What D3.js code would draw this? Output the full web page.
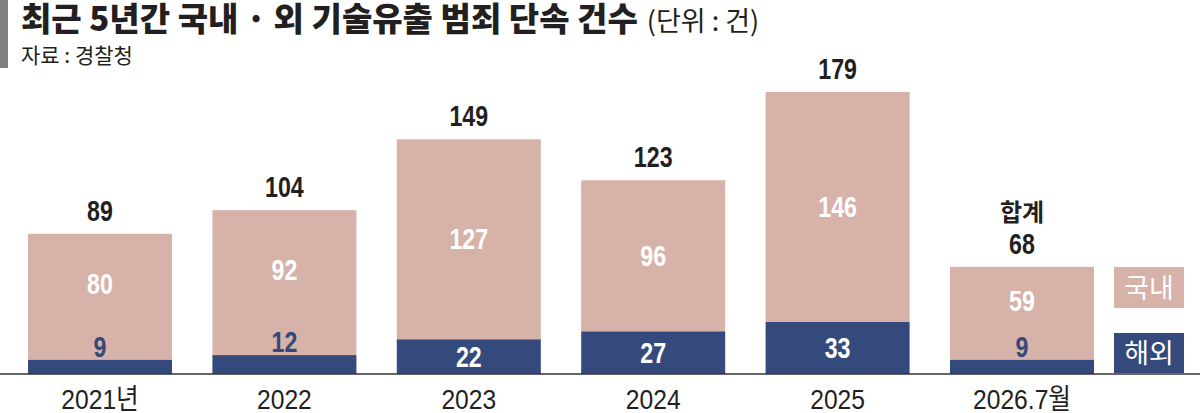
<!DOCTYPE html>
<html><head><meta charset="utf-8">
<script src="https://cdn.jsdelivr.net/npm/d3@7"></script>
<style>
html,body{margin:0;padding:0;background:#fff;}
svg{display:block;}
</style></head>
<body>
<svg id="c" width="1200" height="413"></svg>
<script>
const categories = ["2021년","2022","2023","2024","2025","2026.7월"];
const domestic = [80, 92, 127, 96, 146, 59];
const overseas = [9, 12, 22, 27, 33, 9];
const seriesNames = ["국내", "해외"];
const titleText = "최근 5년간 국내 · 외 기술유출 범죄 단속 건수";
const unitText = "(단위 : 건)";
const sourceText = "자료 : 경찰청";
const totalPrefix = ["", "", "", "", "", "합계"];

const PINK = "#d6b2a9", NAVY = "#34497c", INK = "#231f20";
const KR = "'Noto Sans CJK KR','Noto Sans',sans-serif";
const NUM = "'Liberation Sans',Arial,'Noto Sans CJK KR',sans-serif";
const NUMSIZE = 29, NUMSX = 0.8;

const svg = d3.select("#c");
const baseY = 374;
const x = d3.scaleBand().domain(categories).range([28, 1094]).paddingInner(0.219).paddingOuter(0);
const y = d3.scaleLinear().domain([0, 179]).range([baseY, 92]);

const data = categories.map((c, i) => ({c, d: domestic[i], o: overseas[i], t: domestic[i] + overseas[i], p: totalPrefix[i]}));
const cx = d => x(d.c) + x.bandwidth() / 2;

// header
svg.append("rect").attr("x", 0).attr("y", 0).attr("width", 8).attr("height", 68).attr("fill", "#808080");
const title = svg.append("text").attr("x", 21).attr("y", 31).attr("font-family", KR).attr("fill", INK)
  .attr("font-size", 33).attr("font-weight", 900).text(titleText);
const tw = title.node().getComputedTextLength();
svg.append("text").attr("x", 21 + tw + 9).attr("y", 31).attr("font-family", KR).attr("fill", INK)
  .attr("font-size", 27).attr("font-weight", 400).text(unitText);
svg.append("text").attr("x", 21).attr("y", 63).attr("font-family", KR).attr("font-size", 21).attr("fill", INK).text(sourceText);

// bars
const g = svg.append("g");
g.selectAll("rect.dom").data(data).join("rect").attr("class", "dom")
  .attr("x", d => x(d.c)).attr("width", x.bandwidth())
  .attr("y", d => y(d.t)).attr("height", d => y(d.o) - y(d.t)).attr("fill", PINK);
g.selectAll("rect.ovs").data(data).join("rect").attr("class", "ovs")
  .attr("x", d => x(d.c)).attr("width", x.bandwidth())
  .attr("y", d => y(d.o)).attr("height", d => baseY - y(d.o)).attr("fill", NAVY);

const small = d => (baseY - y(d.o)) < 28;
function numText(sel, yFn, fill) {
  sel.attr("transform", d => `translate(${cx(d)},${yFn(d)}) scale(${NUMSX},1)`)
    .attr("text-anchor", "middle").attr("font-family", NUM).attr("font-weight", 700)
    .attr("font-size", NUMSIZE).attr("fill", fill);
}
// overseas labels
numText(g.selectAll("text.ovl").data(data).join("text").attr("class", "ovl").text(d => d.o),
  d => small(d) ? y(d.o) - 3 : (y(d.o) + baseY) / 2 + 10, d => small(d) ? NAVY : "#fff");
// domestic labels
numText(g.selectAll("text.dml").data(data).join("text").attr("class", "dml").text(d => d.d),
  d => { const bottom = small(d) ? y(d.o) - 25 : y(d.o); return (y(d.t) + bottom) / 2 + 10; }, "#fff");
// totals
numText(g.selectAll("text.tot").data(data).join("text").attr("class", "tot").text(d => d.t),
  d => y(d.t) - 13, INK);
g.selectAll("text.pre").data(data.filter(d => d.p)).join("text").attr("class", "pre")
  .attr("x", cx).attr("y", d => y(d.t) - 46)
  .attr("text-anchor", "middle").attr("font-family", KR).attr("font-weight", 700).attr("font-size", 24)
  .attr("fill", INK).text(d => d.p);

// axis
const ax = svg.append("g").attr("transform", `translate(0,${baseY})`)
  .call(d3.axisBottom(x).tickSize(0).tickPadding(0));
ax.select(".domain").remove();
ax.selectAll("text").attr("y", 35).attr("dy", null).attr("transform", "scale(0.88,1)")
  .attr("font-family", NUM).attr("font-size", 28).attr("fill", INK);
svg.append("line").attr("x1", 0).attr("x2", 1200).attr("y1", baseY).attr("y2", baseY).attr("stroke", "#333").attr("stroke-width", 1.5);

// legend
const leg = [{n: seriesNames[0], c: PINK, y0: 267, y1: 308}, {n: seriesNames[1], c: NAVY, y0: 333, y1: 373}];
const lg = svg.append("g");
lg.selectAll("rect").data(leg).join("rect").attr("x", 1114).attr("width", 70)
  .attr("y", d => d.y0).attr("height", d => d.y1 - d.y0).attr("fill", d => d.c);
lg.selectAll("text").data(leg).join("text").attr("x", 1149).attr("y", d => (d.y0 + d.y1) / 2 + 10)
  .attr("text-anchor", "middle").attr("font-family", KR).attr("font-size", 27).attr("fill", "#fff").text(d => d.n);
</script>
</body></html>
